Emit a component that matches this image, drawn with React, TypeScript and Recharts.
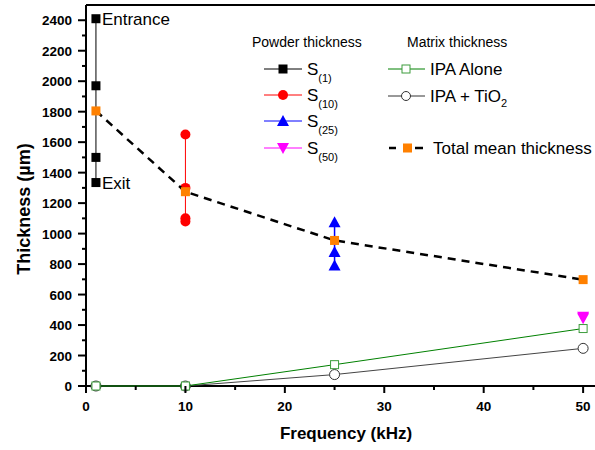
import { ComposedChart, Scatter, XAxis, YAxis, ReferenceLine } from 'recharts';

// powder thickness (µm) at each frequency
const s1Thickness = [2410, 1970, 1500, 1335];
const s1Labels = ['Entrance', '', '', 'Exit'];
const s10Thickness = [1650, 1300, 1100, 1080];
const s25Thickness = [1075, 880, 790];
const s50Thickness = [455, 445];

// matrix thickness
const matrixFreq = [1, 10, 25, 50];
const ipaAlone = [0, 0, 140, 377];
const ipaTiO2 = [0, 0, 75, 247];

// total mean thickness
const meanFreq = [1, 10, 25, 50];
const meanThickness = [1805, 1275, 955, 698];

const xTicks = [0, 5, 10, 15, 20, 25, 30, 35, 40, 45, 50];
const yTicks = Array.from({ length: 25 }, (_, i) => i * 100);

const FONT = '"Liberation Sans", Arial, sans-serif';

const at = (x: number, ys: number[], labels?: string[]) =>
  ys.map((y, i) => ({ x, y, label: labels ? labels[i] : '' }));
const pairs = (xs: number[], ys: number[]) => xs.map((x, i) => ({ x, y: ys[i] }));

const s1Data = at(1, s1Thickness, s1Labels);
const s10Data = at(10, s10Thickness);
const s25Data = at(25, s25Thickness);
const s50Data = at(50, s50Thickness);
const ipaAloneData = pairs(matrixFreq, ipaAlone);
const ipaTiO2Data = pairs(matrixFreq, ipaTiO2);
const meanData = pairs(meanFreq, meanThickness);

type P = { cx: number; cy: number };

const Square = ({ cx, cy, fill, stroke, size = 9 }: P & { fill: string; stroke?: string; size?: number }) => (
  <rect x={cx - size / 2} y={cy - size / 2} width={size} height={size} fill={fill} stroke={stroke} strokeWidth={1} />
);
const Dot = ({ cx, cy, fill, stroke, r = 5 }: P & { fill: string; stroke?: string; r?: number }) => (
  <circle cx={cx} cy={cy} r={r} fill={fill} stroke={stroke} strokeWidth={1} />
);
const TriUp = ({ cx, cy, fill }: P & { fill: string }) => (
  <polygon points={`${cx},${cy - 6} ${cx - 6},${cy + 5} ${cx + 6},${cy + 5}`} fill={fill} />
);
const TriDown = ({ cx, cy, fill }: P & { fill: string }) => (
  <polygon points={`${cx},${cy + 6} ${cx - 6},${cy - 5} ${cx + 6},${cy - 5}`} fill={fill} />
);

const S1Shape = (p: any) => (
  <g>
    <Square cx={p.cx} cy={p.cy} fill="#000" />
    {p.payload && p.payload.label ? (
      <text x={p.cx + 6} y={p.cy + 6} fontSize={17} fontFamily={FONT} fill="#000">
        {p.payload.label}
      </text>
    ) : null}
  </g>
);

const XTick = ({ x, y, payload }: any) => {
  const major = payload.value % 10 === 0;
  return (
    <g>
      <line x1={x} x2={x} y1={y} y2={y + (major ? 7 : 4)} stroke="#000" strokeWidth={2} />
      {major && (
        <text x={x} y={y + 25} textAnchor="middle" fontSize={13.5} fontWeight="bold" fontFamily={FONT} fill="#000">
          {payload.value}
        </text>
      )}
    </g>
  );
};

const YTick = ({ x, y, payload }: any) => {
  const major = payload.value % 200 === 0;
  return (
    <g>
      <line x1={x} x2={x - (major ? 8 : 4)} y1={y} y2={y} stroke="#000" strokeWidth={2} />
      {major && (
        <text x={x - 14} y={y + 5} textAnchor="end" fontSize={13.5} fontWeight="bold" fontFamily={FONT} fill="#000">
          {payload.value}
        </text>
      )}
    </g>
  );
};

function LegendOverlay() {
  const left = [
    { y: 69, color: '#000', sub: '(1)', icon: (cx: number, cy: number) => <Square cx={cx} cy={cy} fill="#000" /> },
    { y: 95, color: '#ff0000', sub: '(10)', icon: (cx: number, cy: number) => <Dot cx={cx} cy={cy} fill="#ff0000" /> },
    { y: 121, color: '#0000ff', sub: '(25)', icon: (cx: number, cy: number) => <TriUp cx={cx} cy={cy} fill="#0000ff" /> },
    { y: 148, color: '#ff00ff', sub: '(50)', icon: (cx: number, cy: number) => <TriDown cx={cx} cy={cy} fill="#ff00ff" /> },
  ];
  return (
    <svg width={595} height={170} style={{ position: 'absolute', left: 0, top: 0, pointerEvents: 'none' }}>
      <g fontFamily={FONT} fill="#000">
        <text x={252} y={47} fontSize={14}>Powder thickness</text>
        <text x={407} y={47} fontSize={14}>Matrix thickness</text>
        {left.map((r) => (
          <g key={r.sub}>
            <line x1={264} x2={302} y1={r.y} y2={r.y} stroke={r.color} strokeWidth={1} />
            {r.icon(283, r.y)}
            <text x={307} y={r.y + 6} fontSize={17}>
              S<tspan fontSize={11} dy={7}>{r.sub}</tspan>
            </text>
          </g>
        ))}
        <line x1={388} x2={425} y1={69} y2={69} stroke="#008000" strokeWidth={1} />
        <Square cx={406} cy={69} fill="#fff" stroke="#3c9c3c" size={8} />
        <text x={430} y={75} fontSize={17}>IPA Alone</text>
        <line x1={388} x2={425} y1={96} y2={96} stroke="#333" strokeWidth={1} />
        <Dot cx={406} cy={96} fill="#fff" stroke="#333" r={4.5} />
        <text x={430} y={102} fontSize={17}>
          IPA + TiO<tspan fontSize={11} dy={5}>2</tspan>
        </text>
        <line x1={389} x2={396} y1={148} y2={148} stroke="#000" strokeWidth={2.5} />
        <line x1={415} x2={423} y1={148} y2={148} stroke="#000" strokeWidth={2.5} />
        <Square cx={407.5} cy={148} fill="#ff8000" />
        <text x={433} y={154} fontSize={17}>Total mean thickness</text>
      </g>
    </svg>
  );
}

export default function App() {
  return (
    <div style={{ position: 'fixed', left: 0, top: 0, width: 595, height: 450, overflow: 'hidden', background: '#fff' }}>
      <ComposedChart width={620} height={450} margin={{ top: 5, right: 17, bottom: 0, left: 0 }}>
        <XAxis
          type="number"
          dataKey="x"
          domain={[0, 52]}
          ticks={xTicks}
          interval={0}
          tickSize={0}
          tickMargin={0}
          tick={XTick}
          tickLine={false}
          axisLine={{ stroke: '#000', strokeWidth: 2 }}
          height={64}
          label={{
            content: () => (
              <text x={346} y={439} textAnchor="middle" fontSize={17} fontWeight="bold" fontFamily={FONT} fill="#000">
                Frequency (kHz)
              </text>
            ),
          }}
        />
        <YAxis
          type="number"
          dataKey="y"
          domain={[0, 2500]}
          ticks={yTicks}
          interval={0}
          tickSize={0}
          tickMargin={0}
          tick={YTick}
          tickLine={false}
          axisLine={{ stroke: '#000', strokeWidth: 2 }}
          width={86}
          label={{
            content: () => (
              <text
                x={30}
                y={209}
                transform="rotate(-90 30 209)"
                textAnchor="middle"
                fontSize={18}
                fontWeight="bold"
                fontFamily={FONT}
                fill="#000"
              >
                Thickness (µm)
              </text>
            ),
          }}
        />
        <ReferenceLine y={2500} stroke="#000" strokeWidth={2} />
        <Scatter
          data={ipaTiO2Data}
          isAnimationActive={false}
          line={{ stroke: '#444', strokeWidth: 1 }}
          shape={(p: any) => <Dot cx={p.cx} cy={p.cy} fill="#fff" stroke="#333" r={5} />}
        />
        <Scatter
          data={ipaAloneData}
          isAnimationActive={false}
          line={{ stroke: '#008000', strokeWidth: 1 }}
          shape={(p: any) => <Square cx={p.cx} cy={p.cy} fill="#fff" stroke="#3c9c3c" size={8} />}
        />
        <Scatter data={s1Data} isAnimationActive={false} line={{ stroke: '#000', strokeWidth: 1 }} shape={S1Shape} />
        <Scatter
          data={s10Data}
          isAnimationActive={false}
          line={{ stroke: '#ff0000', strokeWidth: 1 }}
          shape={(p: any) => <Dot cx={p.cx} cy={p.cy} fill="#ff0000" />}
        />
        <Scatter
          data={s25Data}
          isAnimationActive={false}
          line={{ stroke: '#0000ff', strokeWidth: 1.5 }}
          shape={(p: any) => <TriUp cx={p.cx} cy={p.cy} fill="#0000ff" />}
        />
        <Scatter
          data={s50Data}
          isAnimationActive={false}
          line={{ stroke: '#ff00ff', strokeWidth: 1 }}
          shape={(p: any) => <TriDown cx={p.cx} cy={p.cy} fill="#ff00ff" />}
        />
        <Scatter
          data={meanData}
          isAnimationActive={false}
          line={{ stroke: '#000', strokeWidth: 2.5, strokeDasharray: '8 6' }}
          shape={(p: any) => <Square cx={p.cx} cy={p.cy} fill="#ff8000" />}
        />
      </ComposedChart>
      <LegendOverlay />
    </div>
  );
}
